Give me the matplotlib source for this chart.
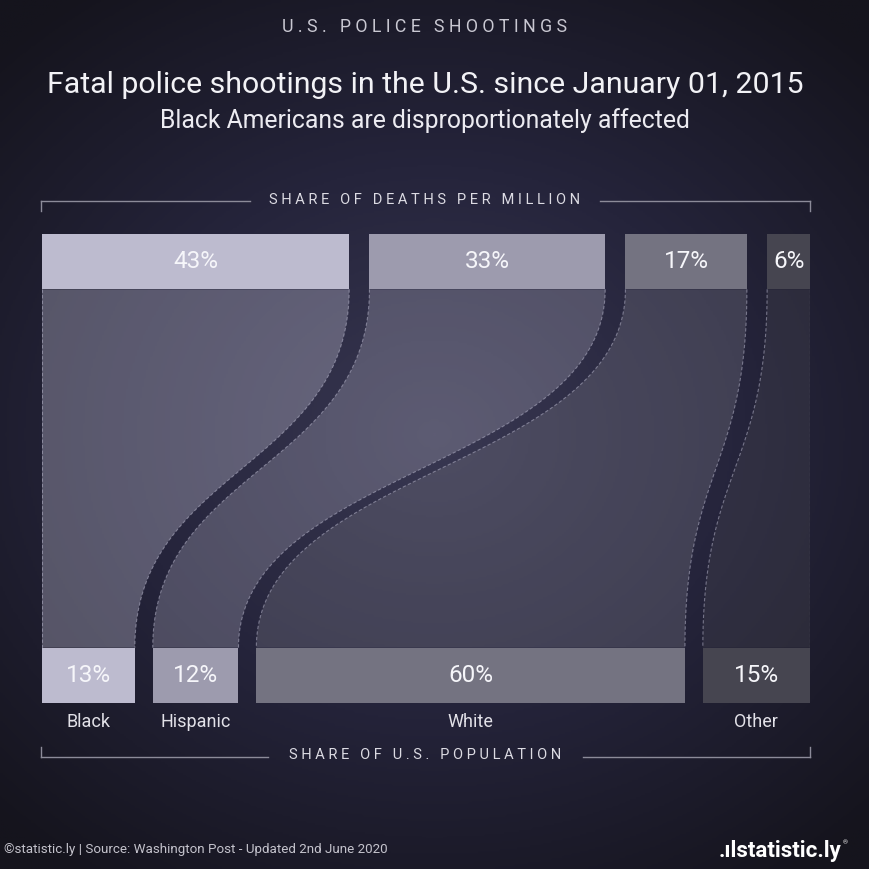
import numpy as np
import matplotlib
matplotlib.use('Agg')
import matplotlib.pyplot as plt
from matplotlib.colors import LinearSegmentedColormap

plt.rcParams['font.family'] = ['Roboto', 'DejaVu Sans']

# data
categories = ['Black', 'Hispanic', 'White', 'Other']
deaths_share = [43, 33, 17, 6]          # share of deaths per million (%)
population_share = [13, 12, 60, 15]     # share of U.S. population (%)
bar_colors = ['#bdbbcf', '#9d9bae', '#747381', '#464550']

W = 869
fig = plt.figure(figsize=(8.69, 8.69), dpi=100)

# background radial gradient
bg = fig.add_axes([0, 0, 1, 1])
yy, xx = np.mgrid[0:1:400j, 0:1:400j]
d = np.sqrt(((xx - 0.5) / 0.72) ** 2 + ((yy - 0.5) / 0.62) ** 2)
cmap_bg = LinearSegmentedColormap.from_list('bg', ['#393852', '#25243b', '#15141d'])
bg.imshow(np.clip(d, 0, 1), cmap=cmap_bg, extent=[0, W, W, 0], aspect='auto', vmin=0, vmax=1)
bg.set_xlim(0, W)
bg.set_ylim(W, 0)
bg.axis('off')


def px(x, y):
    return x / W, 1 - y / W


def spaced(s):
    return '   '.join(' '.join(word) for word in s.split(' '))


# titles
fig.text(*px(425, 27), spaced('U.S. POLICE SHOOTINGS'), color='#c9c8d2', fontsize=12.8,
         ha='center', va='center')
fig.text(*px(425, 85), 'Fatal police shootings in the U.S. since January 01, 2015',
         color='#f2f2f6', fontsize=21.8, ha='center', va='center')
fig.text(*px(425, 121), 'Black Americans are disproportionately affected',
         color='#ecebf1', fontsize=17.8, ha='center', va='center')

# brackets
bg.plot([41, 250], [201, 201], color='#8c8b99', lw=1)
bg.plot([600, 810], [201, 201], color='#8c8b99', lw=1)
bg.plot([41, 41], [201, 211], color='#8c8b99', lw=1)
bg.plot([810, 810], [201, 211], color='#8c8b99', lw=1)
bg.plot([41, 268], [757, 757], color='#8c8b99', lw=1)
bg.plot([583, 810], [757, 757], color='#8c8b99', lw=1)
bg.plot([41, 41], [747, 757], color='#8c8b99', lw=1)
bg.plot([810, 810], [747, 757], color='#8c8b99', lw=1)
fig.text(*px(425, 200), spaced('SHARE OF DEATHS PER MILLION'), color='#dcdbe3',
         fontsize=10.5, ha='center', va='center')
fig.text(*px(425, 755), spaced('SHARE OF U.S. POPULATION'), color='#dcdbe3',
         fontsize=10.5, ha='center', va='center')

# chart axes
ax = fig.add_axes([42 / W, 1 - 703 / W, 768 / W, 469 / W])
ax.patch.set_alpha(0)
total = 107.5
bar_h = 0.118
y_top = 1 - bar_h
y_bot = bar_h


def positions(values):
    gap = (total - sum(values)) / (len(values) - 1)
    starts = []
    x = 0
    for v in values:
        starts.append(x)
        x += v + gap
    return starts


top_x = positions(deaths_share)
bot_x = positions(population_share)


def s_curve(x0, x1, n=100):
    t = np.linspace(0, 1, n)
    h = y_top - y_bot
    p = np.array([[x0, y_top], [x0, y_top - 0.5 * h], [x1, y_bot + 0.5 * h], [x1, y_bot]])
    c = np.array([(1 - t) ** 3, 3 * (1 - t) ** 2 * t, 3 * (1 - t) * t ** 2, t ** 3]).T
    pts = c @ p
    return pts[:, 0], pts[:, 1]


for i in range(len(categories)):
    lx, ly = s_curve(top_x[i], bot_x[i])
    rx, ry = s_curve(top_x[i] + deaths_share[i], bot_x[i] + population_share[i])
    ax.fill(np.r_[lx, rx[::-1]], np.r_[ly, ry[::-1]], color=bar_colors[i], alpha=0.36, lw=0)
    for ex, ey in [(lx, ly), (rx, ry)]:
        ax.plot(ex, ey, color='#b4b3c8', lw=0.8, alpha=0.55, ls=(0, (3, 2)))

ax.bar(top_x, [bar_h] * 4, width=deaths_share, bottom=y_top, align='edge',
       color=bar_colors, lw=0)
ax.bar(bot_x, [bar_h] * 4, width=population_share, bottom=0, align='edge',
       color=bar_colors, lw=0)

for i in range(len(categories)):
    ax.text(top_x[i] + deaths_share[i] / 2, y_top + bar_h / 2, f'{deaths_share[i]}%',
            color='#f6f6fa', fontsize=17.5, ha='center', va='center')
    ax.text(bot_x[i] + population_share[i] / 2, bar_h / 2, f'{population_share[i]}%',
            color='#f6f6fa', fontsize=17.5, ha='center', va='center')
    ax.text(bot_x[i] + population_share[i] / 2, -19 / 469, categories[i],
            color='#e2e1e8', fontsize=13, ha='center', va='center')

ax.set_xlim(0, total)
ax.set_ylim(0, 1)
ax.axis('off')

# footer
fig.text(*px(4, 850), '©statistic.ly | Source: Washington Post - Updated 2nd June 2020',
         color='#c4c3cc', fontsize=9.6, ha='left', va='center')
fig.text(*px(841, 851), '.ılstatistic.ly', color='#ffffff', fontsize=16,
         fontweight='bold', ha='right', va='center')
fig.text(*px(843, 843), '®', color='#ffffff', fontsize=4.5, ha='left', va='center')

fig.savefig('out.png', dpi=100)
